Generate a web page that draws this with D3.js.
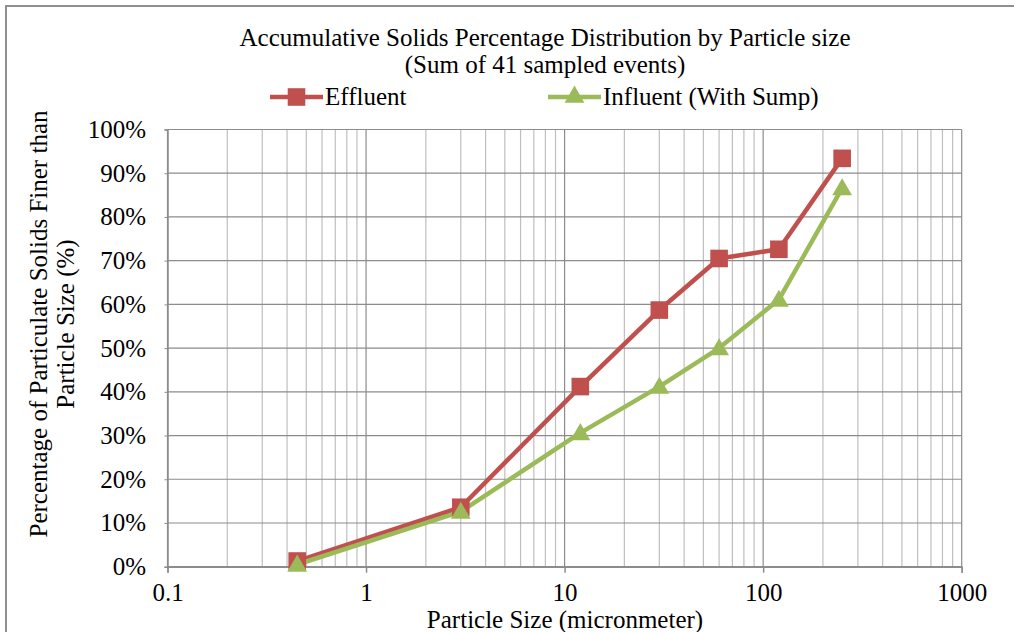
<!DOCTYPE html>
<html>
<head>
<meta charset="utf-8">
<script src="https://cdn.jsdelivr.net/npm/d3@7"></script>
<style>
  body { margin: 0; background: #fff; }
  svg text { font-family: "Liberation Serif", "Times New Roman", "DejaVu Serif", serif; fill: #000; }
</style>
</head>
<body>
<div id="viz"></div>
<script>
// particle sizes (micrometer) and cumulative percentage finer
const sizes = [0.45, 3, 12, 30, 60, 120, 250];
const effluent = [1.3, 13.6, 41.2, 58.7, 70.5, 72.6, 93.4];
const influent = [0.5, 12.6, 30.6, 41.2, 50.0, 61.1, 86.6];
const xTicks = [0.1, 1, 10, 100, 1000];
const yTicks = [0, 10, 20, 30, 40, 50, 60, 70, 80, 90, 100];

const width = 1014;
const height = 632;
const plotL = 167.5, plotR = 961.7, plotT = 129.5, plotB = 566.7;
const serif = '"Liberation Serif", "Times New Roman", serif';
const fs = 25;

const red = '#c0504d';
const green = '#9bbb59';

const svg = d3.select('#viz')
      .append('svg')
      .attr('width', width)
      .attr('height', height)
      .attr('font-family', serif);

// chart border (runs off the right and bottom edges)
svg.append('rect')
    .attr('x', 6)
    .attr('y', 6)
    .attr('width', 1030)
    .attr('height', 650)
    .attr('fill', 'white')
    .attr('stroke', '#8f8f8f')
    .attr('stroke-width', 2);

const x = d3.scaleLog().domain([0.1, 1000]).range([plotL, plotR]);
const y = d3.scaleLinear().domain([0, 100]).range([plotB, plotT]);

// minor vertical grid
const minor = [];
for (let d = 0.1; d < 1000; d *= 10) {
    for (let k = 2; k <= 9; k++) minor.push(d * k);
}
svg.append('g').selectAll('line')
    .data(minor)
    .join('line')
    .attr('x1', d => x(d)).attr('x2', d => x(d))
    .attr('y1', plotT).attr('y2', plotB)
    .attr('stroke', '#bfbfbf')
    .attr('stroke-width', 1.2);

// major vertical grid
svg.append('g').selectAll('line')
    .data(xTicks)
    .join('line')
    .attr('x1', d => x(d)).attr('x2', d => x(d))
    .attr('y1', plotT).attr('y2', plotB)
    .attr('stroke', '#8c8c8c')
    .attr('stroke-width', 1.2);

// horizontal grid
svg.append('g').selectAll('line')
    .data(yTicks)
    .join('line')
    .attr('x1', plotL).attr('x2', plotR)
    .attr('y1', d => y(d)).attr('y2', d => y(d))
    .attr('stroke', '#8c8c8c')
    .attr('stroke-width', 1.2);

// axes
const xAxis = svg.append('g')
    .attr('transform', `translate(0,${plotB})`)
    .call(d3.axisBottom(x).tickValues(xTicks).tickFormat(d => String(d)).tickSize(6).tickPadding(11))
    .attr('font-family', serif)
    .attr('font-size', fs);
xAxis.select('.domain').attr('stroke', '#8c8c8c').attr('stroke-width', 1.5);
xAxis.selectAll('.tick line').attr('stroke', '#8c8c8c').attr('stroke-width', 1.5);

const yAxis = svg.append('g')
    .attr('transform', `translate(${plotL},0)`)
    .call(d3.axisLeft(y).tickValues(yTicks).tickFormat(d => d + '%').tickSize(3).tickPadding(18.5))
    .attr('font-family', serif)
    .attr('font-size', fs);
yAxis.select('.domain').attr('stroke', '#8c8c8c').attr('stroke-width', 1.5);
yAxis.selectAll('.tick line').attr('stroke', '#8c8c8c');

// lines
const line = d3.line()
    .x((d, i) => x(sizes[i]))
    .y(d => y(d));

svg.append('path')
    .datum(effluent)
    .attr('d', line)
    .attr('fill', 'none')
    .attr('stroke', red)
    .attr('stroke-width', 4.5)
    .attr('stroke-linejoin', 'round');

svg.append('path')
    .datum(influent)
    .attr('d', line)
    .attr('fill', 'none')
    .attr('stroke', green)
    .attr('stroke-width', 4.5)
    .attr('stroke-linejoin', 'round');

const square = d3.symbol().type(d3.symbolSquare).size(310);
const triangle = d3.symbol().type(d3.symbolTriangle).size(170);

svg.append('g').selectAll('path')
    .data(effluent)
    .join('path')
    .attr('d', square)
    .attr('transform', (d, i) => `translate(${x(sizes[i])},${y(d)})`)
    .attr('fill', red);

svg.append('g').selectAll('path')
    .data(influent)
    .join('path')
    .attr('d', triangle)
    .attr('transform', (d, i) => `translate(${x(sizes[i])},${y(d) + 1.5})`)
    .attr('fill', green);

// title
svg.append('text')
    .attr('x', 545).attr('y', 45.5)
    .attr('text-anchor', 'middle')
    .attr('font-size', fs)
    .text('Accumulative Solids Percentage Distribution by Particle size');
svg.append('text')
    .attr('x', 545).attr('y', 72.5)
    .attr('text-anchor', 'middle')
    .attr('font-size', fs)
    .text('(Sum of 41 sampled events)');

// legend
const legend = [
    { name: 'Effluent', color: red, sym: square, x0: 270 },
    { name: 'Influent (With Sump)', color: green, sym: triangle, x0: 548 }
];
const lg = svg.append('g').selectAll('g')
    .data(legend)
    .join('g')
    .attr('transform', d => `translate(${d.x0},97)`);
lg.append('line')
    .attr('x1', 0).attr('x2', 53)
    .attr('stroke', d => d.color)
    .attr('stroke-width', 4.5);
lg.append('path')
    .attr('d', d => d.sym())
    .attr('transform', 'translate(26.5,0)')
    .attr('fill', d => d.color);
lg.append('text')
    .attr('x', 55).attr('y', 8)
    .attr('font-size', fs)
    .text(d => d.name);

// axis titles
svg.append('text')
    .attr('x', 565).attr('y', 628)
    .attr('text-anchor', 'middle')
    .attr('font-size', fs)
    .text('Particle Size (micronmeter)');

const yt = svg.append('text')
    .attr('transform', 'translate(47,324) rotate(-90)')
    .attr('text-anchor', 'middle')
    .attr('font-size', fs);
yt.append('tspan').attr('x', 0).attr('dy', 0).text('Percentage of Particulate Solids Finer than');
yt.append('tspan').attr('x', 0).attr('dy', 26.5).text('Particle Size (%)');
</script>
</body>
</html>
